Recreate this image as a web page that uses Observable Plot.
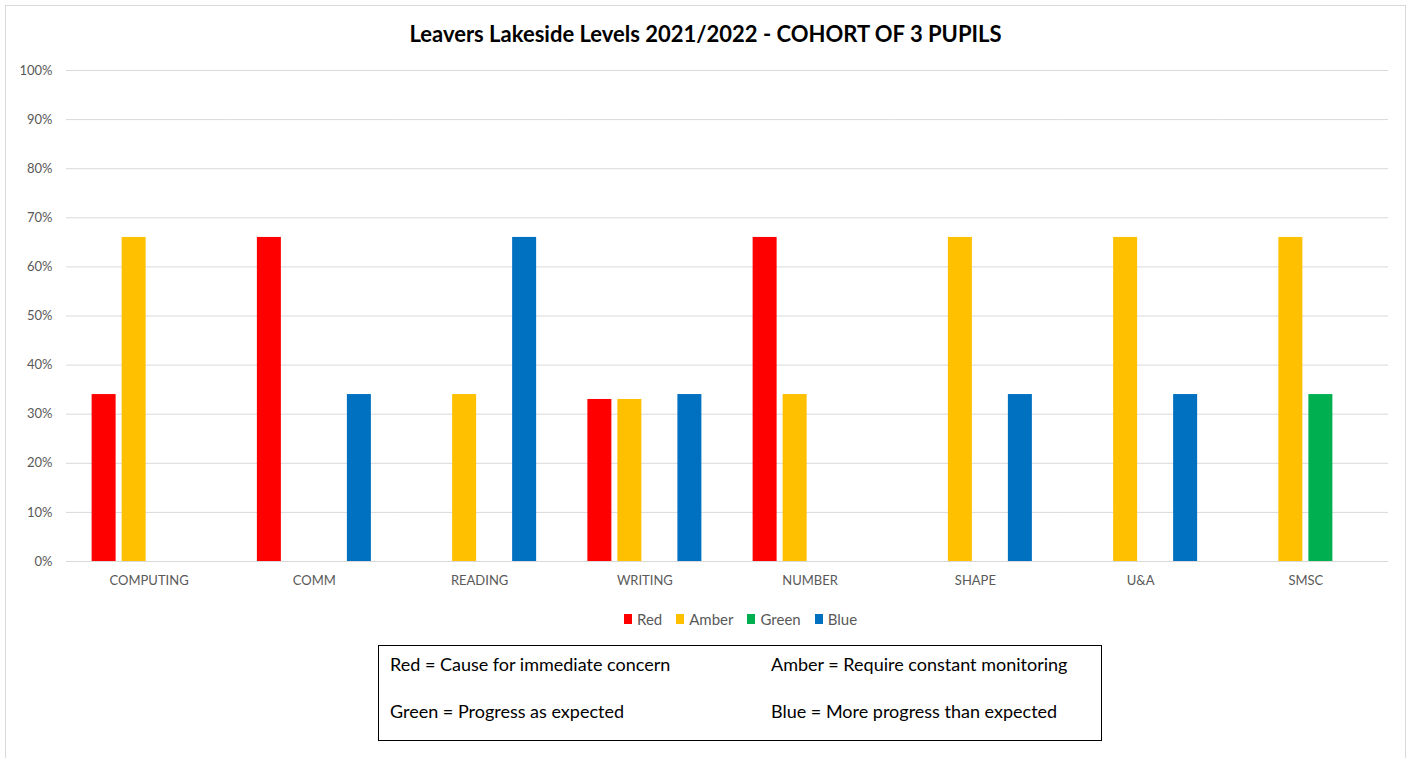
<!DOCTYPE html>
<html>
<head>
<meta charset="utf-8">
<script src="https://cdn.jsdelivr.net/npm/d3@7"></script>
<script src="https://cdn.jsdelivr.net/npm/@observablehq/plot@0.6"></script>
<style>
  html, body { margin: 0; padding: 0; background: #fff; }
  body { width: 1411px; height: 758px; position: relative; overflow: hidden; font-family: Lato, "Open Sans", sans-serif; }
  #frame { position: absolute; left: 5px; top: 5px; width: 1401px; height: 760px; border: 1px solid #d9d9d9; box-sizing: border-box; }
  #title { position: absolute; top: 20px; left: 0; width: 1411px; text-align: center; font-weight: bold; font-size: 22px; color: #000; }
  #chart { position: absolute; left: 0; top: 0; }
  #legend { position: absolute; left: 624px; top: 610px; display: flex; align-items: center; font-size: 15px; color: #595959; }
  #legend .item { display: flex; align-items: center; margin-right: 14px; }
  #legend .sw { width: 8px; height: 10px; margin-right: 5px; }
  #box { position: absolute; left: 378px; top: 645px; width: 724px; height: 96px; border: 1px solid #000; box-sizing: border-box; font-size: 18px; color: #000; }
  #box span { position: absolute; white-space: nowrap; }
</style>
</head>
<body>
<div id="frame"></div>
<div id="chart"></div>
<div id="title">Leavers Lakeside Levels 2021/2022 - COHORT OF 3 PUPILS</div>
<div id="legend"></div>
<div id="box"></div>
<script>
const categories = ["COMPUTING", "COMM", "READING", "WRITING", "NUMBER", "SHAPE", "U&A", "SMSC"];
const series = ["Red", "Amber", "Green", "Blue"];
const colors = ["#FF0000", "#FFC000", "#00B050", "#0070C0"];
// percentages per category (null = no bar)
const redValues   = [34, 66, null, 33, 66, null, null, null];
const amberValues = [66, null, 34, 33, 34, 66, 66, 66];
const greenValues = [null, null, null, null, null, null, null, 34];
const blueValues  = [null, 34, 66, 34, null, 34, 34, null];
const yTicks = [0, 0.1, 0.2, 0.3, 0.4, 0.5, 0.6, 0.7, 0.8, 0.9, 1.0];
const keyTexts = [
  "Red = Cause for immediate concern",
  "Amber = Require constant monitoring",
  "Green = Progress as expected",
  "Blue = More progress than expected"
];

const valueSets = [redValues, amberValues, greenValues, blueValues];
const rows = [];
categories.forEach((c, i) => {
  series.forEach((s, j) => {
    const v = valueSets[j][i];
    if (v != null) rows.push({category: c, series: s, value: v / 100});
  });
});

const chart = Plot.plot({
  width: 1411,
  height: 600,
  marginTop: 70,
  marginBottom: 39,
  marginLeft: 66,
  marginRight: 23,
  style: {fontFamily: "Lato, 'Open Sans', sans-serif", fontSize: "13px", color: "#595959", background: "transparent"},
  fx: {domain: categories, padding: 0, round: false, axis: "bottom", label: null, tickSize: 0, tickPadding: 14},
  x: {domain: series, paddingInner: 0.2, paddingOuter: 0.854, round: false, axis: null},
  y: {domain: [0, 1], ticks: yTicks, tickFormat: d => Math.round(d * 100) + "%", tickSize: 0, tickPadding: 14, label: null},
  color: {domain: series, range: colors},
  marks: [
    Plot.ruleY(yTicks, {stroke: "#d9d9d9", strokeWidth: 1}),
    Plot.barY(rows, {fx: "category", x: "series", y: "value", fill: "series"})
  ]
});
document.getElementById("chart").appendChild(chart);

const legend = document.getElementById("legend");
series.forEach((s, j) => {
  const item = document.createElement("div");
  item.className = "item";
  const sw = document.createElement("div");
  sw.className = "sw";
  sw.style.background = colors[j];
  const t = document.createElement("span");
  t.textContent = s;
  item.appendChild(sw);
  item.appendChild(t);
  legend.appendChild(item);
});

const box = document.getElementById("box");
const pos = [[11, 7], [392, 7], [11, 54], [392, 54]];
keyTexts.forEach((t, k) => {
  const sp = document.createElement("span");
  sp.textContent = t;
  sp.style.left = pos[k][0] + "px";
  sp.style.top = pos[k][1] + "px";
  box.appendChild(sp);
});
</script>
</body>
</html>
